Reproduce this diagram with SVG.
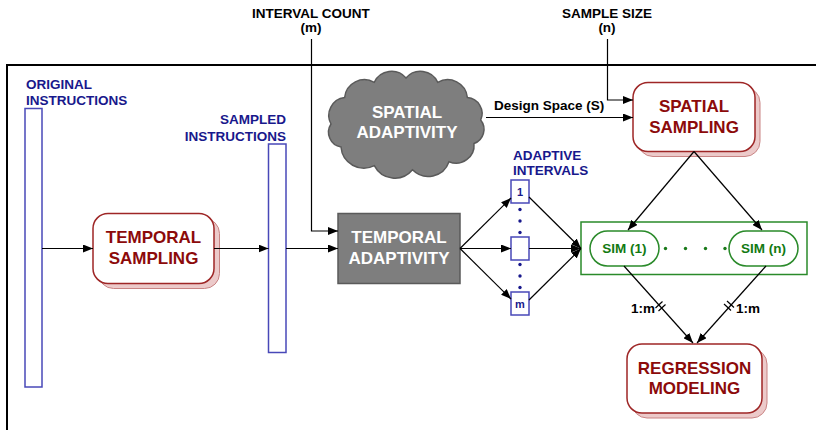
<svg xmlns="http://www.w3.org/2000/svg" width="816" height="430" viewBox="0 0 816 430">
  <defs>
    <marker id="arrow" viewBox="0 0 10 8" refX="10" refY="4" markerWidth="10" markerHeight="8" markerUnits="userSpaceOnUse" orient="auto">
      <path d="M0,0 L10,4 L0,8 Z" fill="#000"/>
    </marker>
  </defs>
  <style>
    text { font-family: "Liberation Sans", Arial, sans-serif; font-weight: bold; }
    .frame { fill: none; stroke: #000; stroke-width: 2; }
    .bar { fill: #fff; stroke: #4848b8; stroke-width: 1.5; }
    .blue { fill: #18188c; font-size: 13.5px; }
    .small { fill: #18188c; font-size: 11px; text-anchor: middle; }
    .bdot { fill: #18188c; }
    .gdot { fill: #1a7a1a; }
    .shadow { fill: #eccaca; stroke: #c98484; stroke-width: 1; }
    .proc { fill: #fff; stroke: #9e2626; stroke-width: 1.5; }
    .red { fill: #8c0a0a; font-size: 17px; text-anchor: middle; }
    .gray { fill: #7e7e7e; stroke: #5a5a5a; stroke-width: 1.5; }
    .white { fill: #fff; font-size: 17px; text-anchor: middle; }
    .label { fill: #000; font-size: 13.5px; }
    .mid { text-anchor: middle; }
    .green { fill: #fff; stroke: #2a8a2a; stroke-width: 1.5; }
    .gtext { fill: #127a12; font-size: 13.5px; text-anchor: middle; }
    .conn { fill: none; stroke: #000; stroke-width: 1.2; }
    .arr { marker-end: url(#arrow); }
  </style>

  <!-- outer frame -->
  <path class="frame" d="M816,65 H7 V430"/>

  <!-- top inputs -->
  <g id="interval-count">
    <text class="label mid" x="311" y="18">INTERVAL COUNT</text>
    <text class="label mid" x="311" y="32">(m)</text>
  </g>
  <g id="sample-size">
    <text class="label mid" x="607" y="18">SAMPLE SIZE</text>
    <text class="label mid" x="607" y="32">(n)</text>
  </g>

  <!-- instruction streams -->
  <g id="original-instructions">
    <text class="blue" x="26" y="89">ORIGINAL</text>
    <text class="blue" x="26" y="105">INSTRUCTIONS</text>
    <rect class="bar" x="25" y="108.5" width="17" height="278.5"/>
  </g>
  <g id="sampled-instructions">
    <text class="blue" x="286" y="124" text-anchor="end">SAMPLED</text>
    <text class="blue" x="286" y="141" text-anchor="end">INSTRUCTIONS</text>
    <rect class="bar" x="268.5" y="144" width="17.5" height="208.5"/>
  </g>

  <!-- temporal sampling -->
  <g id="temporal-sampling">
    <rect class="shadow" x="98.5" y="218.5" width="121" height="70" rx="15"/>
    <rect class="proc" x="93" y="213.5" width="121" height="70" rx="15"/>
    <text class="red" x="153.5" y="243">TEMPORAL</text>
    <text class="red" x="153.5" y="264">SAMPLING</text>
  </g>

  <!-- temporal adaptivity -->
  <g id="temporal-adaptivity">
    <rect class="gray" x="338" y="213.5" width="122" height="70"/>
    <text class="white" x="399" y="243">TEMPORAL</text>
    <text class="white" x="399" y="264">ADAPTIVITY</text>
  </g>

  <!-- spatial adaptivity (cloud) -->
  <g id="spatial-adaptivity">
    <path class="gray" d="M331,124
      A18,18 0 0 1 344.6,97.6
      A20,20 0 0 1 374.3,82.3
      A19,19 0 0 1 406,78
      A19,19 0 0 1 437.7,82.3
      A20,20 0 0 1 467.4,97.6
      A16,16 0 0 1 480.7,120
      A15,15 0 0 1 474,143.5
      A18,18 0 0 1 449,161.7
      A22,22 0 0 1 412.5,169.8
      A23,23 0 0 1 374.3,165.7
      A23,23 0 0 1 341,147
      A15,15 0 0 1 331,124 Z"/>
    <text class="white" x="407" y="118">SPATIAL</text>
    <text class="white" x="407" y="138">ADAPTIVITY</text>
  </g>

  <!-- spatial sampling -->
  <g id="spatial-sampling">
    <rect class="shadow" x="638" y="87.5" width="122" height="69" rx="15"/>
    <rect class="proc" x="633" y="82.5" width="122" height="69" rx="15"/>
    <text class="red" x="694" y="112">SPATIAL</text>
    <text class="red" x="694" y="133">SAMPLING</text>
  </g>

  <!-- adaptive intervals -->
  <g id="adaptive-intervals">
    <text class="blue" x="513" y="160">ADAPTIVE</text>
    <text class="blue" x="513" y="175">INTERVALS</text>
  </g>
  <g id="interval-1">
    <rect class="bar" x="511" y="180" width="18" height="23"/>
    <text class="small" x="520" y="196">1</text>
  </g>
  <g id="interval-mid">
    <rect class="bar" x="511" y="237" width="18" height="23"/>
  </g>
  <g id="interval-m">
    <rect class="bar" x="511" y="292" width="18" height="23"/>
    <text class="small" x="520" y="308">m</text>
  </g>
  <g id="interval-dots">
    <circle class="bdot" cx="520" cy="209.5" r="1.7"/>
    <circle class="bdot" cx="520" cy="221" r="1.7"/>
    <circle class="bdot" cx="520" cy="232.5" r="1.7"/>
    <circle class="bdot" cx="520" cy="264.5" r="1.7"/>
    <circle class="bdot" cx="520" cy="276" r="1.7"/>
    <circle class="bdot" cx="520" cy="287.5" r="1.7"/>
  </g>

  <!-- simulations -->
  <g id="simulations">
    <rect class="green" x="581" y="222" width="226" height="52.5"/>
    <g id="sim-1">
      <rect class="green" x="590" y="231" width="69" height="35" rx="17.5"/>
      <text class="gtext" x="624.5" y="253">SIM (1)</text>
    </g>
    <g id="sim-n">
      <rect class="green" x="729" y="231" width="69" height="35" rx="17.5"/>
      <text class="gtext" x="763.5" y="253">SIM (n)</text>
    </g>
    <circle class="gdot" cx="665.5" cy="248.5" r="1.7"/>
    <circle class="gdot" cx="685.5" cy="248.5" r="1.7"/>
    <circle class="gdot" cx="705.5" cy="248.5" r="1.7"/>
    <circle class="gdot" cx="725" cy="248.5" r="1.7"/>
  </g>

  <!-- regression modeling -->
  <g id="regression-modeling">
    <rect class="shadow" x="632" y="349" width="135" height="69" rx="15"/>
    <rect class="proc" x="627" y="344" width="135" height="69" rx="15"/>
    <text class="red" x="694.5" y="374">REGRESSION</text>
    <text class="red" x="694.5" y="394">MODELING</text>
  </g>

  <!-- connectors -->
  <g id="connectors">
    <path class="conn arr" d="M311.5,39 V231 H338"/>
    <path class="conn arr" d="M607.5,39 V100 H633"/>
    <path class="conn arr" d="M486,117.5 H633"/>
    <text class="label" x="494" y="110">Design Space (S)</text>

    <path class="conn arr" d="M42,248.5 H93"/>
    <path class="conn arr" d="M214,248.5 H268.5"/>
    <path class="conn arr" d="M286,248.5 H338"/>

    <path class="conn arr" d="M460,248.5 L511,198"/>
    <path class="conn arr" d="M460,248.5 H511"/>
    <path class="conn arr" d="M460,248.5 L511,299"/>

    <path class="conn arr" d="M529,197 L581,248.5"/>
    <path class="conn arr" d="M529,248.5 H581"/>
    <path class="conn arr" d="M529,300 L581,248.5"/>

    <path class="conn arr" d="M694,151.5 L628,230"/>
    <path class="conn arr" d="M694,151.5 L762,230"/>

    <path class="conn arr" d="M624,266 L693,343"/>
    <path class="conn arr" d="M766,266 L697,343"/>
    <!-- 1:m break marks -->
    <path class="conn" d="M655.5,308 L662.5,301.5 M658.5,311 L665.5,304.5"/>
    <path class="conn" d="M727,301 L734,307.5 M724,304 L731,310.5"/>
    <text class="label" x="655" y="313" text-anchor="end">1:m</text>
    <text class="label" x="736" y="313">1:m</text>
  </g>
</svg>
